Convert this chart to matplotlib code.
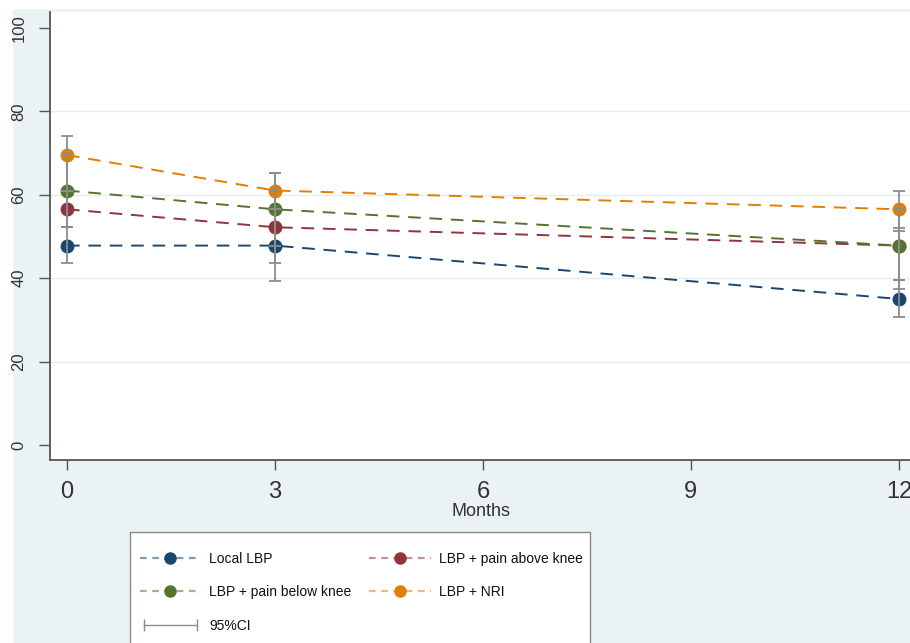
import matplotlib
matplotlib.use('Agg')
import matplotlib.pyplot as plt
import numpy as np
from matplotlib.lines import Line2D
from matplotlib.patches import Rectangle
from matplotlib.legend_handler import HandlerLine2D

plt.rcParams['font.family'] = ['Liberation Sans', 'DejaVu Sans']

# data
months = [0, 3, 12]
series_names = ['Local LBP', 'LBP + pain above knee', 'LBP + pain below knee', 'LBP + NRI']

local_lbp = [47.8, 47.8, 35.0]
local_lo = [43.6, 39.2, 30.7]
local_hi = [52.2, 56.5, 39.5]

above_knee = [56.5, 52.2, 47.8]
above_lo = [52.2, 43.6, 39.5]
above_hi = [61.0, 61.0, 56.5]

below_knee = [61.0, 56.5, 47.8]
below_lo = [52.2, 47.8, 37.4]
below_hi = [69.5, 65.3, 51.2]

nri = [69.5, 61.0, 56.5]
nri_lo = [61.0, 56.5, 52.0]
nri_hi = [74.0, 65.3, 60.8]

yticks = [0, 20, 40, 60, 80, 100]
xticks = [0, 3, 6, 9, 12]

colors = ['#1a476f', '#90353b', '#55752f', '#e37e00']
bg = '#eaf2f3'
txt = '#333333'
axis_col = '#555555'

W, H = 910, 643
fig = plt.figure(figsize=(9.1, 6.43), dpi=100, facecolor=bg)
ax = fig.add_axes([50 / W, 1 - 460 / H, 860 / W, 448 / H])
ax.set_facecolor('white')

# white border strips like the cropped original
fig.patches.append(Rectangle((0, 0), 12 / W, 1, transform=fig.transFigure, color='white', zorder=-5))
fig.patches.append(Rectangle((0, 1 - 8 / H), 1, 8 / H, transform=fig.transFigure, color='white', zorder=-5))

values = [local_lbp, above_knee, below_knee, nri]
los = [local_lo, above_lo, below_lo, nri_lo]
his = [local_hi, above_hi, below_hi, nri_hi]

for vals, c in zip(values, colors):
    ax.plot(months, vals, color=c, lw=1.4, linestyle=(0, (6.5, 4.5)),
            marker='o', markersize=9, markerfacecolor=c, markeredgecolor=c, zorder=2)

for vals, lo, hi in zip(values, los, his):
    v = np.array(vals)
    err = [v - np.array(lo), np.array(hi) - v]
    ax.errorbar(months, vals, yerr=err, fmt='none', ecolor='#8c8c8c',
                elinewidth=1.3, capsize=4.5, capthick=1.3, zorder=3)

ax.set_xlim(-0.245, 12.16)
ax.set_ylim(-3.6, 103.8)
ax.set_xticks(xticks)
ax.set_yticks(yticks)
ax.set_xticklabels([str(t) for t in xticks])
ax.set_yticklabels([str(t) for t in yticks])
for t in [20, 40, 60, 80]:
    ax.axhline(t, color='#e4edef', lw=1.0, zorder=0)

for s in ['top', 'right']:
    ax.spines[s].set_visible(False)
for s in ['left', 'bottom']:
    ax.spines[s].set_color(axis_col)
    ax.spines[s].set_linewidth(1.3)

ax.tick_params(axis='x', length=7, width=1, color=axis_col, labelsize=17, pad=8, labelcolor=txt)
ax.tick_params(axis='y', length=8, width=1, color=axis_col, labelsize=12, pad=9, labelcolor=txt)
plt.setp(ax.get_yticklabels(), rotation=90, va='center')

fig.text(481 / W, 1 - 511 / H, 'Months', ha='center', va='center', fontsize=13, color=txt)

# legend
fig.patches.append(Rectangle((130 / W, -0.05), 460 / W, 0.05 + 1 - 532 / H,
                             transform=fig.transFigure, facecolor='white',
                             edgecolor='#8a8a8a', lw=1.0, zorder=1))

handles = []
for c in colors:
    rgb = matplotlib.colors.to_rgb(c)
    handles.append(Line2D([], [], color=rgb + (0.55,), lw=1.6, linestyle=(0, (3, 2.5)),
                          marker='o', markersize=8, markerfacecolor=c, markeredgecolor=c))
ci_handle = Line2D([], [], color='#8c8c8c', lw=1.0, marker='|', markersize=8,
                   markeredgecolor='#8c8c8c', markeredgewidth=1.0)

leg_handles = [handles[0], handles[2], ci_handle, handles[1], handles[3]]
leg_labels = [series_names[0], series_names[2], '95%CI', series_names[1], series_names[3]]
leg = fig.legend(leg_handles, leg_labels, ncol=2, frameon=False,
                 loc='upper left', bbox_to_anchor=(130 / W, 1 - 542 / H),
                 prop={'size': 10},
                 handlelength=4.4, handletextpad=0.6, labelspacing=1.4,
                 columnspacing=1.3, borderpad=0.2, numpoints=1,
                 handler_map={ci_handle: HandlerLine2D(numpoints=2)})
for t in leg.get_texts():
    t.set_color('#111111')
leg.set_zorder(2)

fig.savefig('out.png', dpi=100, facecolor=bg)
